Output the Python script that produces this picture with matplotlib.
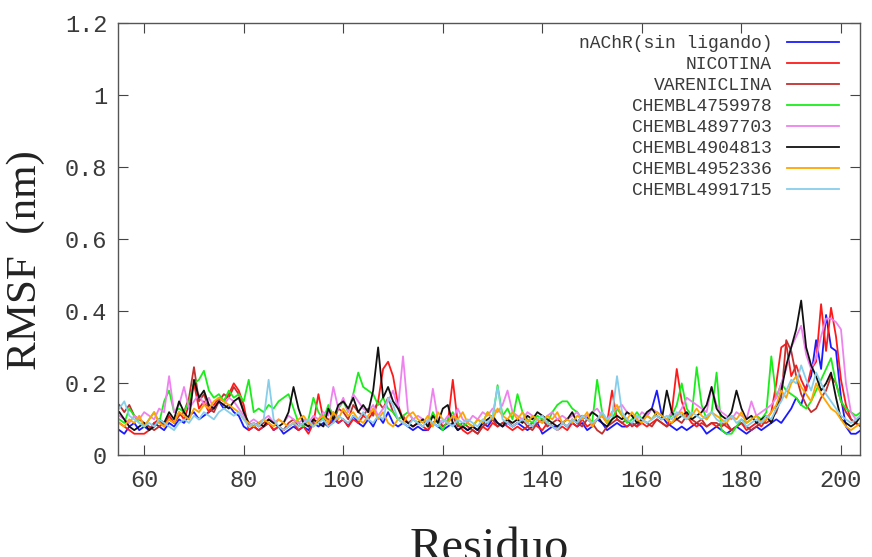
import numpy as np
import matplotlib
matplotlib.use("Agg")
import matplotlib.pyplot as plt

residuo = np.arange(55, 205)

# RMSF (nm) por residuo
nachr = [0.07, 0.06, 0.08, 0.09, 0.07, 0.08, 0.07, 0.09, 0.08, 0.07,
         0.09, 0.08, 0.10, 0.09, 0.11, 0.12, 0.10, 0.11, 0.12, 0.13,
         0.15, 0.13, 0.14, 0.12, 0.11, 0.08, 0.07, 0.08, 0.07, 0.08,
         0.09, 0.07, 0.08, 0.06, 0.07, 0.08, 0.07, 0.08, 0.07, 0.09,
         0.08, 0.09, 0.08, 0.10, 0.09, 0.10, 0.08, 0.11, 0.09, 0.08,
         0.10, 0.08, 0.11, 0.09, 0.12, 0.09, 0.08, 0.09, 0.08, 0.07,
         0.08, 0.07, 0.07, 0.09, 0.08, 0.07, 0.08, 0.09, 0.07, 0.08,
         0.07, 0.08, 0.07, 0.09, 0.08, 0.10, 0.09, 0.08, 0.09, 0.08,
         0.09, 0.08, 0.07, 0.08, 0.09, 0.06, 0.07, 0.08, 0.08, 0.09,
         0.08, 0.09, 0.08, 0.09, 0.07, 0.08, 0.10, 0.09, 0.07, 0.08,
         0.09, 0.08, 0.08, 0.09, 0.08, 0.10, 0.11, 0.13, 0.18, 0.11,
         0.09, 0.08, 0.07, 0.08, 0.07, 0.08, 0.09, 0.08, 0.06, 0.07,
         0.08, 0.07, 0.06, 0.07, 0.08, 0.07, 0.06, 0.07, 0.08, 0.07,
         0.08, 0.09, 0.10, 0.09, 0.11, 0.13, 0.16, 0.14, 0.19, 0.22,
         0.32, 0.24, 0.39, 0.30, 0.29, 0.16, 0.08, 0.06, 0.06, 0.07]

nicotina = [0.09, 0.08, 0.07, 0.06, 0.06, 0.06, 0.07, 0.09, 0.10, 0.08,
            0.11, 0.09, 0.12, 0.10, 0.14, 0.20, 0.13, 0.15, 0.12, 0.14,
            0.16, 0.15, 0.17, 0.20, 0.18, 0.14, 0.07, 0.08, 0.07, 0.08,
            0.09, 0.07, 0.08, 0.07, 0.08, 0.09, 0.07, 0.08, 0.06, 0.09,
            0.17, 0.10, 0.08, 0.12, 0.09, 0.10, 0.08, 0.10, 0.09, 0.11,
            0.10, 0.12, 0.15, 0.24, 0.26, 0.22, 0.14, 0.10, 0.09, 0.08,
            0.09, 0.08, 0.07, 0.09, 0.10, 0.08, 0.09, 0.21, 0.09, 0.07,
            0.06, 0.07, 0.06, 0.08, 0.07, 0.09, 0.08, 0.09, 0.08, 0.07,
            0.08, 0.07, 0.08, 0.09, 0.08, 0.07, 0.09, 0.08, 0.07, 0.08,
            0.07, 0.09, 0.08, 0.10, 0.08, 0.09, 0.10, 0.11, 0.09, 0.18,
            0.10, 0.09, 0.08, 0.09, 0.08, 0.09, 0.08, 0.09, 0.10, 0.09,
            0.08, 0.12, 0.24, 0.15, 0.11, 0.09, 0.08, 0.09, 0.08, 0.09,
            0.08, 0.09, 0.08, 0.07, 0.08, 0.09, 0.07, 0.08, 0.09, 0.08,
            0.10, 0.12, 0.20, 0.30, 0.31, 0.22, 0.25, 0.21, 0.18, 0.24,
            0.26, 0.42, 0.29, 0.41, 0.33, 0.21, 0.14, 0.10, 0.09, 0.08]

vareniclina = [0.14, 0.12, 0.14, 0.11, 0.10, 0.09, 0.08, 0.07, 0.08, 0.09,
               0.10, 0.09, 0.11, 0.12, 0.16, 0.245, 0.15, 0.17, 0.13, 0.12,
               0.15, 0.17, 0.16, 0.19, 0.17, 0.12, 0.08, 0.09, 0.08, 0.09,
               0.10, 0.09, 0.08, 0.07, 0.09, 0.10, 0.08, 0.09, 0.08, 0.10,
               0.09, 0.11, 0.10, 0.09, 0.13, 0.12, 0.10, 0.14, 0.12, 0.11,
               0.13, 0.11, 0.15, 0.13, 0.16, 0.12, 0.10, 0.11, 0.09, 0.10,
               0.09, 0.10, 0.08, 0.09, 0.10, 0.08, 0.09, 0.11, 0.08, 0.09,
               0.08, 0.07, 0.06, 0.08, 0.09, 0.10, 0.08, 0.09, 0.10, 0.08,
               0.09, 0.10, 0.08, 0.07, 0.09, 0.10, 0.08, 0.09, 0.10, 0.09,
               0.08, 0.10, 0.09, 0.08, 0.10, 0.09, 0.07, 0.06, 0.08, 0.09,
               0.10, 0.09, 0.10, 0.08, 0.09, 0.10, 0.09, 0.08, 0.10, 0.09,
               0.08, 0.09, 0.10, 0.09, 0.11, 0.10, 0.09, 0.10, 0.08, 0.09,
               0.09, 0.08, 0.09, 0.07, 0.08, 0.09, 0.08, 0.07, 0.08, 0.09,
               0.09, 0.10, 0.12, 0.16, 0.32, 0.29, 0.22, 0.17, 0.14, 0.12,
               0.13, 0.16, 0.18, 0.22, 0.20, 0.15, 0.12, 0.10, 0.09, 0.08]

chembl4759978 = [0.10, 0.09, 0.13, 0.11, 0.09, 0.08, 0.10, 0.12, 0.09, 0.15,
                 0.18, 0.12, 0.13, 0.12, 0.15, 0.20, 0.21, 0.235, 0.18, 0.16,
                 0.17, 0.15, 0.18, 0.16, 0.17, 0.15, 0.21, 0.12, 0.13, 0.12,
                 0.14, 0.13, 0.15, 0.16, 0.17, 0.13, 0.09, 0.08, 0.10, 0.16,
                 0.12, 0.10, 0.14, 0.11, 0.13, 0.15, 0.12, 0.17, 0.23, 0.19,
                 0.18, 0.17, 0.14, 0.16, 0.13, 0.12, 0.10, 0.11, 0.12, 0.10,
                 0.09, 0.10, 0.08, 0.12, 0.09, 0.07, 0.10, 0.12, 0.09, 0.08,
                 0.09, 0.08, 0.10, 0.09, 0.12, 0.10, 0.195, 0.11, 0.13, 0.10,
                 0.17, 0.12, 0.10, 0.09, 0.11, 0.10, 0.09, 0.12, 0.14, 0.15,
                 0.15, 0.13, 0.12, 0.10, 0.11, 0.09, 0.21, 0.12, 0.09, 0.10,
                 0.13, 0.11, 0.09, 0.10, 0.12, 0.10, 0.11, 0.10, 0.12, 0.11,
                 0.10, 0.11, 0.14, 0.20, 0.13, 0.11, 0.245, 0.14, 0.10, 0.12,
                 0.23, 0.07, 0.06, 0.06, 0.08, 0.10, 0.09, 0.10, 0.11, 0.10,
                 0.12, 0.275, 0.16, 0.20, 0.18, 0.17, 0.16, 0.14, 0.13, 0.15,
                 0.18, 0.21, 0.24, 0.27, 0.20, 0.15, 0.13, 0.12, 0.11, 0.12]

chembl4897703 = [0.11, 0.10, 0.09, 0.11, 0.10, 0.12, 0.11, 0.10, 0.13, 0.12,
                 0.22, 0.12, 0.14, 0.19, 0.13, 0.15, 0.17, 0.14, 0.16, 0.13,
                 0.15, 0.14, 0.16, 0.15, 0.13, 0.11, 0.09, 0.10, 0.09, 0.10,
                 0.11, 0.09, 0.10, 0.09, 0.11, 0.10, 0.09, 0.10, 0.09, 0.11,
                 0.10, 0.12, 0.11, 0.19, 0.13, 0.16, 0.12, 0.17, 0.15, 0.13,
                 0.12, 0.14, 0.11, 0.13, 0.15, 0.18, 0.13, 0.275, 0.12, 0.10,
                 0.11, 0.10, 0.09, 0.185, 0.10, 0.09, 0.11, 0.10, 0.13, 0.10,
                 0.09, 0.11, 0.10, 0.12, 0.11, 0.13, 0.12, 0.14, 0.18, 0.12,
                 0.11, 0.10, 0.12, 0.11, 0.10, 0.09, 0.11, 0.12, 0.10, 0.11,
                 0.10, 0.11, 0.12, 0.10, 0.11, 0.12, 0.13, 0.11, 0.10, 0.12,
                 0.13, 0.14, 0.12, 0.11, 0.10, 0.12, 0.11, 0.13, 0.12, 0.11,
                 0.10, 0.12, 0.11, 0.13, 0.16, 0.15, 0.14, 0.13, 0.12, 0.19,
                 0.14, 0.12, 0.11, 0.10, 0.12, 0.11, 0.10, 0.15, 0.11, 0.12,
                 0.13, 0.14, 0.16, 0.20, 0.24, 0.30, 0.33, 0.36, 0.28, 0.24,
                 0.27, 0.33, 0.38, 0.38, 0.37, 0.35, 0.20, 0.12, 0.10, 0.11]

chembl4904813 = [0.12, 0.10, 0.08, 0.07, 0.08, 0.09, 0.07, 0.08, 0.10, 0.09,
                 0.12, 0.10, 0.15, 0.12, 0.10, 0.21, 0.16, 0.18, 0.14, 0.13,
                 0.15, 0.14, 0.13, 0.15, 0.16, 0.12, 0.09, 0.08, 0.09, 0.08,
                 0.10, 0.09, 0.08, 0.09, 0.12, 0.19, 0.13, 0.09, 0.08, 0.10,
                 0.09, 0.08, 0.13, 0.10, 0.14, 0.15, 0.13, 0.16, 0.12, 0.14,
                 0.12, 0.18, 0.30, 0.16, 0.19, 0.15, 0.13, 0.10, 0.09, 0.08,
                 0.09, 0.10, 0.08, 0.11, 0.09, 0.13, 0.14, 0.09, 0.07, 0.08,
                 0.07, 0.08, 0.07, 0.09, 0.10, 0.11, 0.09, 0.08, 0.10, 0.09,
                 0.10, 0.09, 0.11, 0.10, 0.12, 0.11, 0.10, 0.09, 0.08, 0.09,
                 0.10, 0.12, 0.09, 0.11, 0.10, 0.12, 0.11, 0.09, 0.08, 0.10,
                 0.11, 0.10, 0.12, 0.11, 0.09, 0.10, 0.12, 0.13, 0.11, 0.10,
                 0.18, 0.12, 0.10, 0.11, 0.12, 0.10, 0.11, 0.12, 0.14, 0.19,
                 0.13, 0.11, 0.10, 0.12, 0.18, 0.13, 0.10, 0.11, 0.09, 0.10,
                 0.11, 0.09, 0.13, 0.18, 0.25, 0.30, 0.35, 0.43, 0.30, 0.25,
                 0.22, 0.18, 0.20, 0.23, 0.16, 0.10, 0.09, 0.08, 0.09, 0.11]

chembl4952336 = [0.09, 0.08, 0.10, 0.09, 0.11, 0.08, 0.10, 0.12, 0.09, 0.08,
                 0.10, 0.09, 0.12, 0.11, 0.10, 0.13, 0.12, 0.14, 0.13, 0.15,
                 0.16, 0.15, 0.14, 0.13, 0.12, 0.10, 0.09, 0.08, 0.09, 0.10,
                 0.09, 0.08, 0.10, 0.09, 0.08, 0.09, 0.10, 0.11, 0.09, 0.08,
                 0.10, 0.11, 0.09, 0.12, 0.10, 0.13, 0.11, 0.12, 0.10, 0.09,
                 0.11, 0.13, 0.10, 0.12, 0.09, 0.08, 0.10, 0.09, 0.11, 0.12,
                 0.10, 0.09, 0.11, 0.08, 0.12, 0.10, 0.09, 0.11, 0.10, 0.12,
                 0.09, 0.08, 0.10, 0.09, 0.12, 0.10, 0.13, 0.11, 0.10, 0.12,
                 0.10, 0.12, 0.09, 0.11, 0.10, 0.09, 0.11, 0.10, 0.12, 0.09,
                 0.10, 0.09, 0.11, 0.10, 0.12, 0.08, 0.10, 0.11, 0.09, 0.12,
                 0.14, 0.11, 0.10, 0.12, 0.10, 0.09, 0.11, 0.10, 0.12, 0.11,
                 0.10, 0.09, 0.11, 0.12, 0.10, 0.11, 0.13, 0.11, 0.10, 0.12,
                 0.11, 0.10, 0.09, 0.11, 0.10, 0.12, 0.09, 0.10, 0.11, 0.09,
                 0.10, 0.12, 0.14, 0.18, 0.16, 0.20, 0.22, 0.19, 0.17, 0.15,
                 0.20, 0.17, 0.15, 0.13, 0.12, 0.10, 0.08, 0.07, 0.08, 0.09]

chembl4991715 = [0.13, 0.15, 0.11, 0.10, 0.09, 0.08, 0.09, 0.08, 0.10, 0.09,
                 0.08, 0.07, 0.09, 0.10, 0.09, 0.11, 0.10, 0.12, 0.11, 0.10,
                 0.12, 0.13, 0.12, 0.11, 0.12, 0.10, 0.08, 0.09, 0.08, 0.10,
                 0.21, 0.10, 0.08, 0.07, 0.08, 0.09, 0.08, 0.09, 0.10, 0.08,
                 0.09, 0.10, 0.08, 0.09, 0.11, 0.10, 0.09, 0.11, 0.10, 0.12,
                 0.10, 0.09, 0.11, 0.10, 0.16, 0.14, 0.10, 0.09, 0.08, 0.10,
                 0.09, 0.08, 0.10, 0.09, 0.08, 0.10, 0.09, 0.08, 0.10, 0.09,
                 0.10, 0.09, 0.08, 0.10, 0.09, 0.11, 0.19, 0.10, 0.09, 0.08,
                 0.09, 0.10, 0.09, 0.08, 0.10, 0.11, 0.09, 0.08, 0.07, 0.09,
                 0.08, 0.10, 0.09, 0.11, 0.10, 0.09, 0.10, 0.12, 0.10, 0.11,
                 0.22, 0.12, 0.10, 0.09, 0.11, 0.10, 0.09, 0.10, 0.11, 0.10,
                 0.11, 0.10, 0.12, 0.11, 0.10, 0.12, 0.11, 0.10, 0.11, 0.12,
                 0.10, 0.09, 0.10, 0.11, 0.09, 0.10, 0.08, 0.09, 0.10, 0.09,
                 0.11, 0.10, 0.13, 0.15, 0.18, 0.21, 0.20, 0.25, 0.21, 0.18,
                 0.23, 0.20, 0.17, 0.15, 0.13, 0.11, 0.10, 0.09, 0.10, 0.11]

series = [nachr, nicotina, vareniclina, chembl4759978,
          chembl4897703, chembl4904813, chembl4952336, chembl4991715]
labels = ["nAChR(sin ligando)", "NICOTINA", "VARENICLINA", "CHEMBL4759978",
          "CHEMBL4897703", "CHEMBL4904813", "CHEMBL4952336", "CHEMBL4991715"]
colors = ["#1a1aff", "#ff1a1a", "#c0302e", "#1aee1a",
          "#ee82ee", "#111111", "#ffa500", "#87ceeb"]

mono = "Liberation Mono"
serif = "Liberation Serif"
txt = "#3a3a3a"

fig = plt.figure(figsize=(8.72, 5.57), dpi=100)
ax = fig.add_axes([0.1357, 0.1825, 0.851, 0.7755])

for y, lab, c in zip(series, labels, colors):
    ax.plot(residuo, y, color=c, lw=1.3, label=lab)

ax.set_xlim(54.8, 203.9)
ax.set_ylim(0, 1.2)
ax.set_xticks([60, 80, 100, 120, 140, 160, 180, 200])
ax.set_yticks([0, 0.2, 0.4, 0.6, 0.8, 1.0, 1.2])
ax.set_yticklabels(["0", "0.2", "0.4", "0.6", "0.8", "1", "1.2"])

ax.tick_params(direction="in", length=7, width=0.8, color="#444444",
               top=True, right=True, labelsize=17, labelcolor=txt)
ax.tick_params(axis="x", pad=10)
ax.tick_params(axis="y", pad=8)
for lbl in ax.get_xticklabels() + ax.get_yticklabels():
    lbl.set_family(mono)
for s in ax.spines.values():
    s.set_color("#555555")
    s.set_linewidth(1.0)

ax.set_xlabel("Residuo", family=serif, fontsize=35, color="#222222")
ax.set_ylabel("RMSF  (nm)", family=serif, fontsize=31, color="#222222")
ax.xaxis.set_label_coords(0.5, -0.165)
ax.yaxis.set_label_coords(-0.099, 0.452)

leg = ax.legend(loc="upper right", bbox_to_anchor=(0.971, 0.972),
                frameon=False, markerfirst=False, borderpad=0,
                borderaxespad=0, handlelength=2.9, handletextpad=0.8,
                labelspacing=0.22, prop={"family": mono, "size": 13})
for t in leg.get_texts():
    t.set_color(txt)

fig.savefig("out.png", dpi=100)
